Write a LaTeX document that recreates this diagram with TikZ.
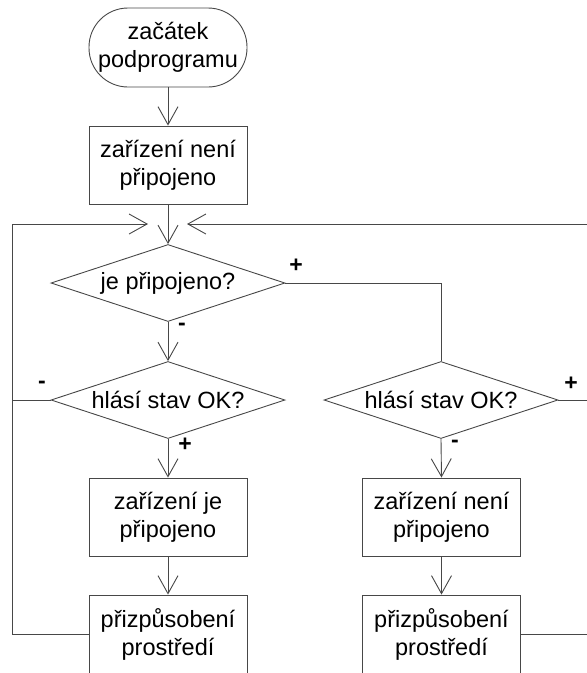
\documentclass[tikz,border=0pt]{standalone}
\usepackage{fontspec}
\setmainfont{Liberation Sans}
\usetikzlibrary{shapes.geometric,arrows.meta}

\begin{document}
\begin{tikzpicture}[x=1pt,y=-1pt,
  every node/.style={font=\fontsize{23.5}{28}\selectfont, align=center},
  line/.style={draw=black!72, line width=0.9pt},
  flow/.style={line, -{Straight Barb[length=18pt,width=20pt,line width=0.9pt]}},
  terminal/.style={line, rectangle, rounded corners=39pt, minimum width=158pt, minimum height=79pt, inner sep=0pt},
  process/.style={line, rectangle, minimum width=158pt, minimum height=78pt, inner sep=0pt},
  decision/.style={line, diamond, minimum width=234pt, minimum height=77pt, inner sep=0pt},
  sign/.style={font=\fontsize{23}{23}\selectfont\bfseries, inner sep=0pt}
]
\clip (0,0) rectangle (587,673);

% main column
\node[terminal] (start) at (168,47.5) {začátek\\podprogramu};
\node[process]  (init)  at (168,165)  {zařízení není\\připojeno};
\node[decision] (conn)  at (168,283)  {\makebox[0pt]{je připojeno?}};
\node[decision] (okL)   at (168,400)  {\makebox[0pt]{hlásí stav OK?}};
\node[process]  (yes)   at (168,517)  {zařízení je\\připojeno};
\node[process]  (adaL)  at (168,634)  {přizpůsobení\\prostředí};

% right column
\node[decision] (okR)   at (441,400)  {\makebox[0pt]{hlásí stav OK?}};
\node[process]  (no)    at (441.5,517){zařízení není\\připojeno};
\node[process]  (adaR)  at (441.5,634){přizpůsobení\\prostředí};

% branch labels
\node[sign] at (296,266) {+};
\node[sign] at (182,327) {-};
\node[sign] at (42,385)  {-};
\node[sign] at (185,445) {+};
\node[sign] at (571,384) {+};
\node[sign] at (455,444) {-};

% junction points of the loops
\coordinate (merge) at (168,224);
\coordinate (inL)   at (148,224);
\coordinate (inR)   at (187,224);
\coordinate (loopL) at (12,224);
\coordinate (loopR) at (600,224);

% forward flow
\draw[flow] (start.south) -- (init.north);
\draw[flow] (init.south) -- (conn.north);
\draw[flow] (conn.south) -- (okL.north);
\draw[flow] (okL.south) -- (yes.north);
\draw[flow] (yes.south) -- (adaL.north);
\draw[line] (conn.east) -| (okR.north);
\draw[flow] (okR.south) -- (no.north);
\draw[flow] (no.south) -- (adaR.north);

% left return loop
\draw[flow] (okL.west) -| (loopL) -- (inL);
\draw[line] (adaL.west) -| (loopL);

% right return loop
\draw[flow] (okR.east) -| (loopR) -- (inR);
\draw[line] (adaR.east) -| (loopR);
\end{tikzpicture}
\end{document}
